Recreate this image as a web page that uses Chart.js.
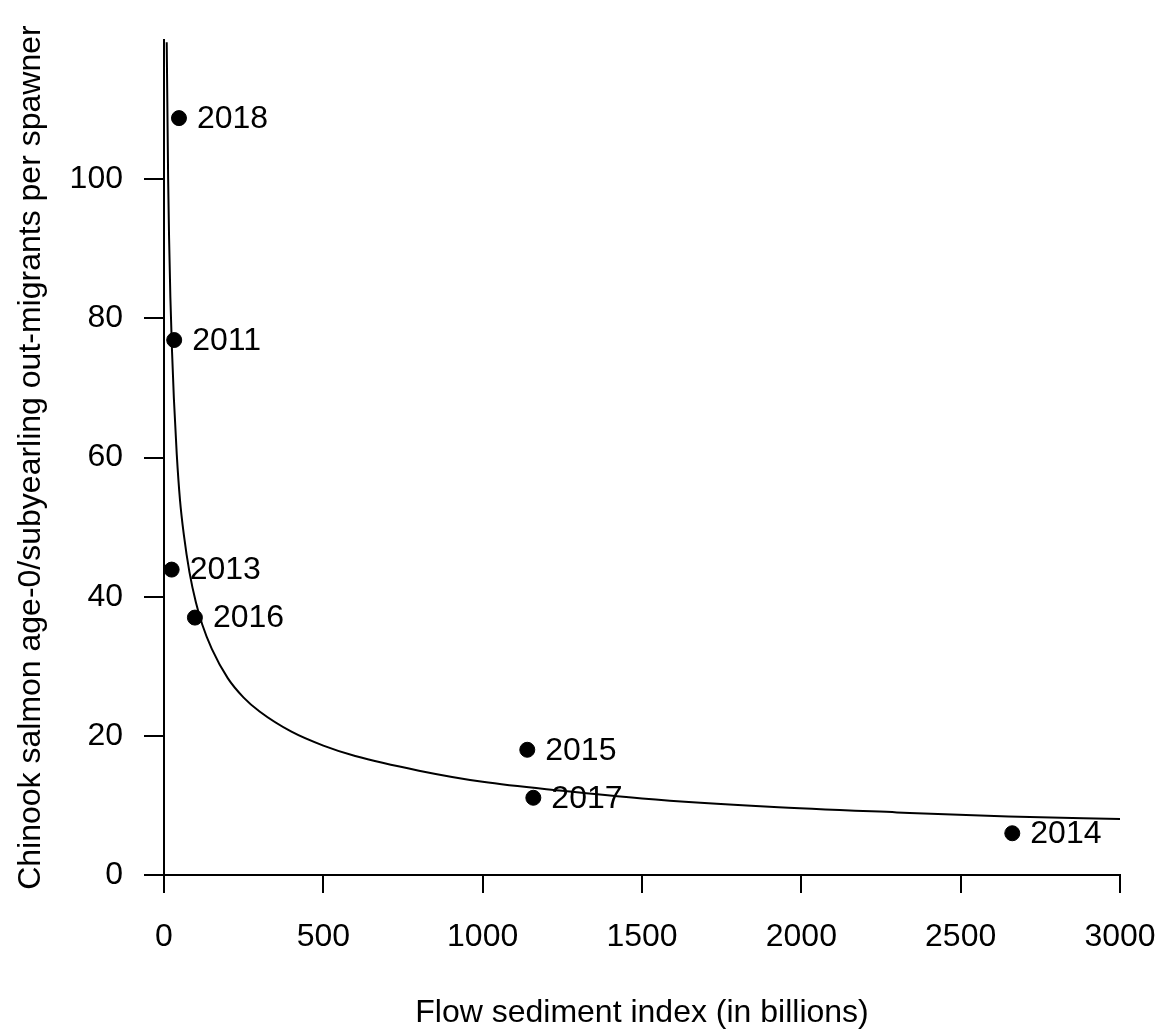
<!DOCTYPE html>
<html>
<head>
<meta charset="utf-8">
<script src="https://cdn.jsdelivr.net/npm/chart.js@4.4.1/dist/chart.umd.min.js"></script>
<style>
  body { margin: 0; background: #fff; }
  #wrap { width: 1159px; height: 1032px; }
</style>
</head>
<body>
<div id="wrap"><canvas id="salmonChart"></canvas></div>
<script>
// observed years (points)
const years = ['2018', '2011', '2013', '2016', '2015', '2017', '2014'];
const flowIndex = [47, 32, 24, 97, 1140, 1159, 2662];
const outMigrants = [108.8, 76.9, 43.9, 37, 18, 11.1, 6];

// fitted curve
const curveX = [8.5, 10.5, 13, 16, 20, 25, 31, 40, 50, 62, 80, 100, 120, 150, 200, 250, 300, 400, 500, 600, 800, 1000, 1250, 1500, 1900, 2300, 2650, 3000];
const curveY = [119.7, 111, 100, 91.5, 83, 75.5, 68.5, 60.5, 54, 49, 43.5, 39.2, 36, 32.5, 28.3, 25.5, 23.5, 20.6, 18.6, 17.1, 15, 13.4, 12.1, 11, 9.8, 9, 8.4, 8.05];

const xTicks = [0, 500, 1000, 1500, 2000, 2500, 3000];
const yTicks = [0, 20, 40, 60, 80, 100];

const fontFamily = '"Liberation Sans", Arial, sans-serif';

const yearLabels = {
    id: 'yearLabels',
    afterDatasetsDraw(chart) {
        const ctx = chart.ctx;
        const meta = chart.getDatasetMeta(0);
        ctx.save();
        ctx.font = '32px ' + fontFamily;
        ctx.fillStyle = '#000';
        ctx.textAlign = 'left';
        ctx.textBaseline = 'middle';
        meta.data.forEach((pt, i) => {
            ctx.fillText(years[i], pt.x + 18, pt.y + 1);
        });
        ctx.restore();
    }
};

const ctx = document.getElementById('salmonChart').getContext('2d');
new Chart(ctx, {
    type: 'scatter',
    data: {
        datasets: [{
            data: flowIndex.map((x, i) => ({ x: x, y: outMigrants[i] })),
            backgroundColor: '#000',
            borderColor: '#000',
            pointRadius: 7.5,
            pointHoverRadius: 7.5
        }, {
            data: curveX.map((x, i) => ({ x: x, y: curveY[i] })),
            showLine: true,
            borderColor: '#000',
            borderWidth: 2,
            pointRadius: 0,
            cubicInterpolationMode: 'monotone',
            fill: false
        }]
    },
    options: {
        responsive: true,
        maintainAspectRatio: false,
        animation: false,
        layout: { padding: { top: 37, right: 39, left: 0, bottom: 0 } },
        plugins: {
            legend: { display: false },
            tooltip: { enabled: false }
        },
        scales: {
            x: {
                type: 'linear',
                min: 0,
                max: 3000,
                afterBuildTicks: s => { s.ticks = xTicks.map(v => ({ value: v })); },
                afterFit: s => {
                    s.height = 157;
                    // keep the plot edge at 3000 fixed, the label fits in the padding
                    s.paddingRight = 0;
                    s.paddingLeft = 0;
                },
                grid: { drawOnChartArea: false, drawTicks: true, tickLength: 18, color: '#000', lineWidth: 2 },
                border: { display: true, color: '#000', width: 2 },
                ticks: {
                    padding: 25,
                    color: '#000',
                    font: { family: fontFamily, size: 32 },
                    maxRotation: 0,
                    callback: v => String(v)
                },
                title: {
                    display: true,
                    text: 'Flow sediment index (in billions)',
                    color: '#000',
                    font: { family: fontFamily, size: 32 },
                    padding: { top: 0, bottom: 0 }
                }
            },
            y: {
                type: 'linear',
                min: 0,
                max: 120,
                afterBuildTicks: s => { s.ticks = yTicks.map(v => ({ value: v })); },
                afterFit: s => { s.width = 164; },
                grid: { drawOnChartArea: false, drawTicks: true, tickLength: 20, color: '#000', lineWidth: 2 },
                border: { display: true, color: '#000', width: 2 },
                ticks: {
                    padding: 21,
                    color: '#000',
                    font: { family: fontFamily, size: 32 },
                    callback: v => String(v)
                },
                title: {
                    display: true,
                    text: 'Chinook salmon age-0/subyearling out-migrants per spawner',
                    color: '#000',
                    font: { family: fontFamily, size: 32 },
                    padding: { top: 12, bottom: 0 }
                }
            }
        }
    },
    plugins: [yearLabels]
});
</script>
</body>
</html>
